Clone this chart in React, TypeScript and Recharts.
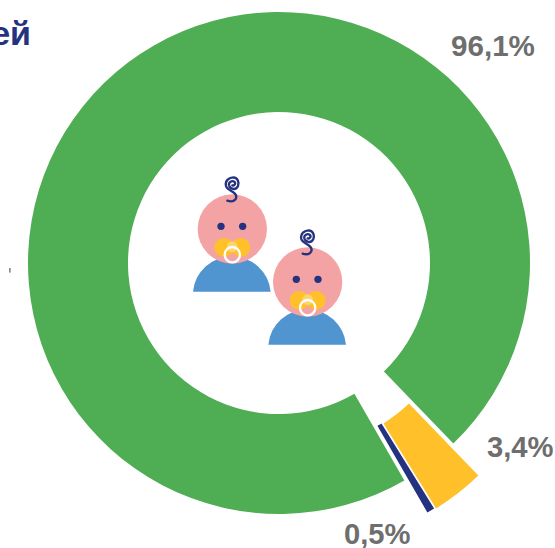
import React from 'react'
import { PieChart, Pie, Cell } from 'recharts'

const mainValue = [96.1]
const navyValue = [0.5]
const yellowValue = [3.4]
const tickLabels = ['96,1%', '3,4%', '0,5%']

const GREEN = '#4FAE54'
const NAVY = '#25327F'
const YELLOW = '#FFC02A'
const GREY = '#6E6E6E'
const PINK = '#F4A3A5'
const BLUE = '#5195D0'

const START = -46
const DEG = 3.6
const INNER = 151
const OUTER = 251

// goes counter clockwise from the lower right gap
const greenStart = START
const greenEnd = greenStart + mainValue[0] * DEG
const navyEnd = greenEnd + navyValue[0] * DEG
const yellowEnd = navyEnd + yellowValue[0] * DEG

const toRow = (value: number[]) => value.map((v) => ({ value: v }))

const Baby = ({ dx, dy }: { dx: number; dy: number }) => (
  <g transform={`translate(${dx} ${dy})`}>
    <path d="M69 395 A117 117 0 0 1 302 395 Z" fill={BLUE} />
    <circle cx={187} cy={207} r={104} fill={PINK} />
    <circle cx={153} cy={199} r={11} fill={NAVY} />
    <circle cx={218} cy={199} r={11} fill={NAVY} />
    <ellipse cx={162} cy={262} rx={29} ry={28} fill={YELLOW} />
    <ellipse cx={212} cy={262} rx={29} ry={28} fill={YELLOW} />
    <circle cx={187} cy={260} r={16} fill="#FDD56F" />
    <circle cx={187} cy={284} r={23} fill="none" stroke="#fff" strokeWidth={7} />
    <path
      d="M172 122 C190 128 202 118 198 106 C194 94 172 92 168 78 C164 62 178 52 190 52 C204 53 208 68 204 78 C198 92 180 88 177 76 C175 66 186 60 194 66 C198 70 194 78 187 76"
      fill="none"
      stroke={NAVY}
      strokeWidth={7}
      strokeLinecap="round"
    />
  </g>
)

export default function App() {
  return (
    <div style={{ position: 'absolute', left: 0, top: 0, width: 555, height: 548 }}>
      <PieChart width={555} height={548} margin={{ top: 0, right: 0, bottom: 0, left: 0 }}>
        <Pie
          data={toRow(mainValue)}
          dataKey="value"
          cx={279}
          cy={263}
          innerRadius={INNER}
          outerRadius={OUTER}
          startAngle={greenStart}
          endAngle={greenEnd}
          stroke="none"
          isAnimationActive={false}
        >
          <Cell fill={GREEN} />
        </Pie>
        <Pie
          data={toRow(navyValue)}
          dataKey="value"
          cx={302}
          cy={295}
          innerRadius={INNER}
          outerRadius={OUTER}
          startAngle={greenEnd}
          endAngle={navyEnd}
          stroke="none"
          isAnimationActive={false}
        >
          <Cell fill={NAVY} />
        </Pie>
        <Pie
          data={toRow(yellowValue)}
          dataKey="value"
          cx={304}
          cy={295}
          innerRadius={INNER}
          outerRadius={OUTER}
          startAngle={navyEnd}
          endAngle={yellowEnd}
          stroke="none"
          isAnimationActive={false}
        >
          <Cell fill={YELLOW} />
        </Pie>
        <g style={{ fontFamily: '"Liberation Sans", Arial, sans-serif', fontWeight: 700 }}>
          <text x={31} y={45} textAnchor="end" fontSize={34} fill={NAVY}>ей</text>
          <text x={451} y={56} fontSize={29.6} fill={GREY}>{tickLabels[0]}</text>
          <text x={487} y={457} fontSize={29.2} fill={GREY}>{tickLabels[1]}</text>
          <text x={344} y={544} fontSize={29.2} fill={GREY}>{tickLabels[2]}</text>
        </g>
        <rect x={9} y={268} width={1.7} height={4.6} fill="#8A8A8A" />
        <g transform="translate(170 160) scale(0.3333)">
          <Baby dx={0} dy={0} />
          <Baby dx={226} dy={159} />
        </g>
      </PieChart>
    </div>
  )
}
